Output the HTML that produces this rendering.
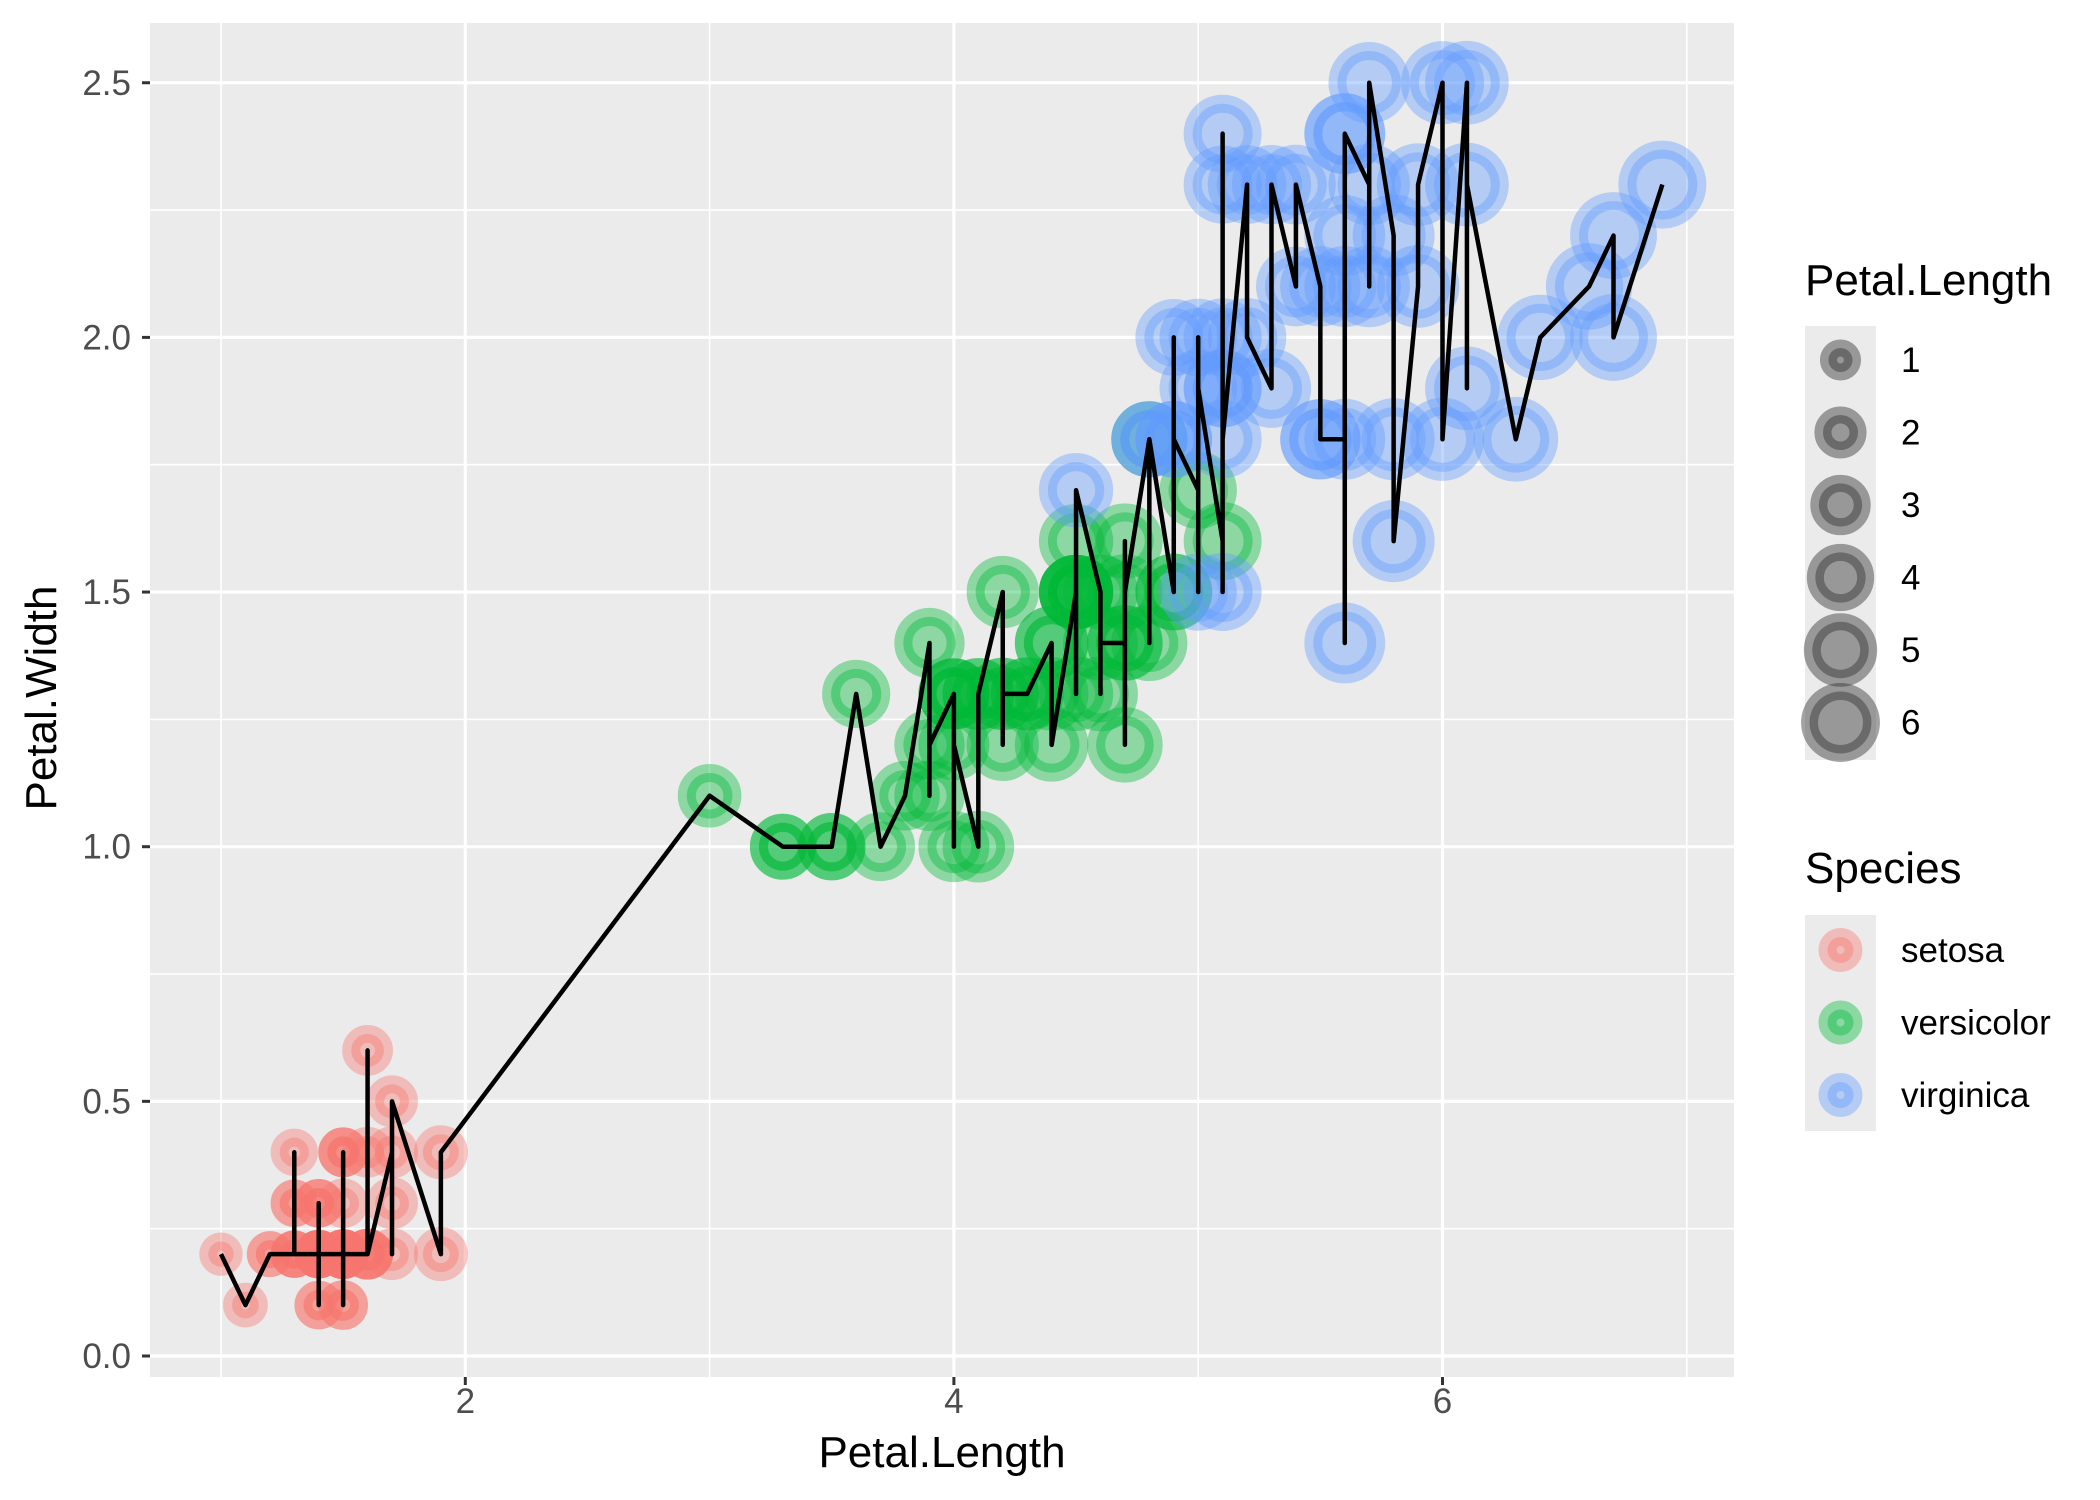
<!DOCTYPE html>
<html><head><meta charset="utf-8"><style>
html,body{margin:0;padding:0;background:#fff;}
svg{display:block;font-family:"Liberation Sans",sans-serif;}
</style></head><body>
<svg id="chart" width="2100" height="1500" viewBox="0 0 2100 1500">
<rect x="150" y="23" width="1584" height="1354" fill="#ebebeb"/>
<g id="grid"></g>
<g id="points"></g>
<g id="line"></g>
<g id="axes"></g>
<g id="legend"></g>
</svg>
<script>
const setosaLength=[1.4,1.4,1.3,1.5,1.4,1.7,1.4,1.5,1.4,1.5,1.5,1.6,1.4,1.1,1.2,1.5,1.3,1.4,1.7,1.5,1.7,1.5,1.0,1.7,1.9,1.6,1.6,1.5,1.4,1.6,1.6,1.5,1.5,1.4,1.5,1.2,1.3,1.4,1.3,1.5,1.3,1.3,1.3,1.6,1.9,1.4,1.6,1.4,1.5,1.4];
const setosaWidth=[0.2,0.2,0.2,0.2,0.2,0.4,0.3,0.2,0.2,0.1,0.2,0.2,0.1,0.1,0.2,0.4,0.4,0.3,0.3,0.3,0.2,0.4,0.2,0.5,0.2,0.2,0.4,0.2,0.2,0.2,0.2,0.4,0.1,0.2,0.2,0.2,0.2,0.1,0.2,0.2,0.3,0.3,0.2,0.6,0.4,0.3,0.2,0.2,0.2,0.2];
const versicolorLength=[4.7,4.5,4.9,4.0,4.6,4.5,4.7,3.3,4.6,3.9,3.5,4.2,4.0,4.7,3.6,4.4,4.5,4.1,4.5,3.9,4.8,4.0,4.9,4.7,4.3,4.4,4.8,5.0,4.5,3.5,3.8,3.7,3.9,5.1,4.5,4.5,4.7,4.4,4.1,4.0,4.4,4.6,4.0,3.3,4.2,4.2,4.2,4.3,3.0,4.1];
const versicolorWidth=[1.4,1.5,1.5,1.3,1.5,1.3,1.6,1.0,1.3,1.4,1.0,1.5,1.0,1.4,1.3,1.4,1.5,1.0,1.5,1.1,1.8,1.3,1.5,1.2,1.3,1.4,1.4,1.7,1.5,1.0,1.1,1.0,1.2,1.6,1.5,1.6,1.5,1.3,1.3,1.3,1.2,1.4,1.2,1.0,1.3,1.2,1.3,1.3,1.1,1.3];
const virginicaLength=[6.0,5.1,5.9,5.6,5.8,6.6,4.5,6.3,5.8,6.1,5.1,5.3,5.5,5.0,5.1,5.3,5.5,6.7,6.9,5.0,5.7,4.9,6.7,4.9,5.7,6.0,4.8,4.9,5.6,5.8,6.1,6.4,5.6,5.1,5.6,6.1,5.6,5.5,4.8,5.4,5.6,5.1,5.1,5.9,5.7,5.2,5.0,5.2,5.4,5.1];
const virginicaWidth=[2.5,1.9,2.1,1.8,2.2,2.1,1.7,1.8,1.8,2.5,2.0,1.9,2.1,2.0,2.4,2.3,1.8,2.2,2.3,1.5,2.3,2.0,2.0,1.8,2.1,1.8,1.8,1.8,2.1,1.6,1.9,2.0,2.2,1.5,1.4,2.3,2.4,1.8,1.8,2.1,2.4,2.3,1.9,2.3,2.5,2.3,1.9,2.0,2.3,1.8];
const speciesNames=["setosa","versicolor","virginica"];
const speciesColors=["#F8766D","#00BA38","#619CFF"];
const xTicks=[2,4,6];
const xMinor=[1,3,5,7];
const yTicks=[0,0.5,1,1.5,2,2.5];
const yTickLabels=["0.0","0.5","1.0","1.5","2.0","2.5"];
const yMinor=[0.25,0.75,1.25,1.75,2.25];
const sizeBreaks=[1,2,3,4,5,6];

const NS="http://www.w3.org/2000/svg";
const PL=150,PR=1734,PT=23,PB=1377;
function xs(v){return 221+(v-1)*244.3;}
function ys(v){return 1356-v*509.3;}
function rs(v){return Math.sqrt(Math.max(20,-19+180*v));}
function mk(tag,attrs,parent){const e=document.createElementNS(NS,tag);for(const k in attrs)e.setAttribute(k,attrs[k]);parent.appendChild(e);return e;}

const grid=document.getElementById('grid');
xMinor.forEach(v=>{const l=mk('line',{x1:xs(v),x2:xs(v),y1:PT,y2:PB,stroke:'#fff','stroke-width':1.6},grid);

});
yMinor.forEach(v=>{const l=mk('line',{x1:PL,x2:PR,y1:ys(v),y2:ys(v),stroke:'#fff','stroke-width':1.6},grid);

});
xTicks.forEach(v=>{const l=mk('line',{x1:xs(v),x2:xs(v),y1:PT,y2:PB,stroke:'#fff','stroke-width':3.2},grid);

});
yTicks.forEach(v=>{const l=mk('line',{x1:PL,x2:PR,y1:ys(v),y2:ys(v),stroke:'#fff','stroke-width':3.2},grid);

});

const groups=[[setosaLength,setosaWidth],[versicolorLength,versicolorWidth],[virginicaLength,virginicaWidth]];
const pts=document.getElementById('points');
const all=[];
groups.forEach((g,si)=>{g[0].forEach((L,i)=>{
  const W=g[1][i];all.push([L,W]);
  const c=mk('circle',{cx:xs(L),cy:ys(W),r:rs(L),fill:speciesColors[si],'fill-opacity':0.4,stroke:speciesColors[si],'stroke-opacity':0.4,'stroke-width':18},pts);
  
  
});});
const sorted=all.map((p,i)=>[p,i]).sort((a,b)=>a[0][0]-b[0][0]||a[1]-b[1]).map(a=>a[0]);
const ln=mk('polyline',{points:sorted.map(p=>xs(p[0])+','+ys(p[1])).join(' '),fill:'none',stroke:'#000','stroke-width':4.5,'stroke-linejoin':'round'},document.getElementById('line'));



const ax=document.getElementById('axes');
yTicks.forEach((v,i)=>{
  const t=mk('line',{x1:142,x2:PL,y1:ys(v),y2:ys(v),stroke:'#333','stroke-width':3},ax);
  
  
  const tx=mk('text',{x:131,y:ys(v)+12,'text-anchor':'end','font-size':35,fill:'#4d4d4d'},ax);
  tx.textContent=yTickLabels[i];
  
  
});
xTicks.forEach(v=>{
  const t=mk('line',{x1:xs(v),x2:xs(v),y1:PB,y2:PB+8,stroke:'#333','stroke-width':3},ax);
  
  
  const tx=mk('text',{x:xs(v),y:1413,'text-anchor':'middle','font-size':35,fill:'#4d4d4d'},ax);
  tx.textContent=String(v);
  
  
});
const xt=mk('text',{x:(PL+PR)/2,y:1467,'text-anchor':'middle','font-size':44,fill:'#000'},ax);
xt.textContent='Petal.Length';


const yt=mk('text',{x:0,y:0,'text-anchor':'middle','font-size':44,fill:'#000',transform:'translate(56,698) rotate(-90)'},ax);
yt.textContent='Petal.Width';



const lg=document.getElementById('legend');
const LX=1805;
const t1=mk('text',{x:LX,y:295,'font-size':44,fill:'#000'},lg);
t1.textContent='Petal.Length';


const b1=mk('rect',{x:LX,y:326,width:71,height:434,fill:'#ebebeb'},lg);


sizeBreaks.forEach((v,i)=>{
  const cy=360+i*72.5;
  const c=mk('circle',{cx:LX+35.5,cy:cy,r:rs(v)*0.95,fill:'#333','fill-opacity':0.45,stroke:'#333','stroke-opacity':0.45,'stroke-width':17},lg);
  
  
  const tx=mk('text',{x:LX+96,y:cy+12,'font-size':35,fill:'#000'},lg);
  tx.textContent=String(v);
  
  
});
const t2=mk('text',{x:LX,y:883,'font-size':44,fill:'#000'},lg);
t2.textContent='Species';


const b2=mk('rect',{x:LX,y:915,width:71,height:216,fill:'#ebebeb'},lg);


speciesNames.forEach((n,i)=>{
  const cy=950+i*72.5;
  const c=mk('circle',{cx:LX+35.5,cy:cy,r:13,fill:speciesColors[i],'fill-opacity':0.4,stroke:speciesColors[i],'stroke-opacity':0.4,'stroke-width':18},lg);
  
  
  const tx=mk('text',{x:LX+96,y:cy+12,'font-size':35,fill:'#000'},lg);
  tx.textContent=n;
  
  
});
</script>
</body></html>
